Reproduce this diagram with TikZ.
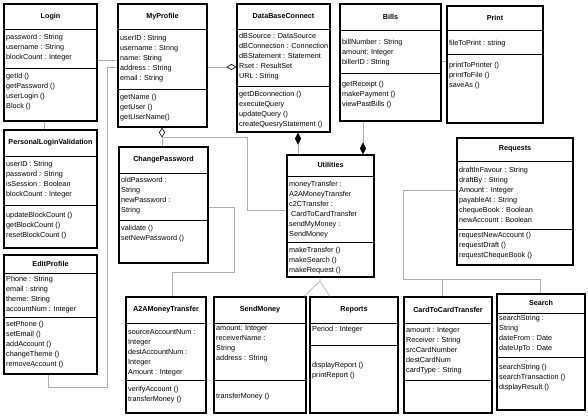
\documentclass[tikz,border=0pt]{standalone}
\usepackage{fontspec}
\setmainfont{Liberation Sans}
\usetikzlibrary{positioning,calc,fit,shadows,arrows.meta}

\tikzset{
  classframe/.style={draw, line width=1.1pt, fill=white, inner sep=0pt,
    drop shadow={shadow xshift=1.2pt, shadow yshift=-1.2pt, fill=black!60, opacity=1}},
  divider/.style={line width=0.8pt},
  classtitle/.style={font=\bfseries\fontsize{7.2}{10}\selectfont, inner sep=0pt},
  members/.style={anchor=north west, align=left, inner sep=0pt, font=\fontsize{7.25}{10}\selectfont},
  assoc/.style={draw=black!32, line width=0.6pt},
  aggrend/.style={assoc, -{Diamond[open, length=10pt, width=6pt, color=black, line width=0.6pt]}},
  aggrstart/.style={assoc, {Diamond[open, length=10pt, width=6pt, color=black, line width=0.6pt]}-},
  compend/.style={assoc, -{Diamond[length=12pt, width=6pt, color=black]}},
  compstart/.style={assoc, {Diamond[length=12pt, width=6pt, color=black]}-}
}

% class frame: name, left, top, right, bottom, first divider, second divider, title
\newcommand{\umlclass}[8]{%
  \path (#2,#3) coordinate (#1-nw) (#4,#5) coordinate (#1-se);
  \node[classframe, fit=(#1-nw)(#1-se)] (#1) {};
  \draw[divider] (#1.west |- 0,#6) -- (#1.east |- 0,#6);
  \draw[divider] (#1.west |- 0,#7) -- (#1.east |- 0,#7);
  \node[classtitle] (#1-name) at ($(#1.north)!0.5!(#1.north |- 0,#6)$) {#8};
}

\begin{document}
\begin{tikzpicture}[x=1pt, y=-1pt]
  \useasboundingbox[fill=white] (0,0) rectangle (588,415);

  % top row
  \umlclass{login}{4}{4}{97}{121}{29}{68}{Login}
  \node[members] (login-attr) at (6,34) {password : String\\username : String\\blockCount : Integer};
  \node[members] (login-ops) at (6,73) {getId ()\\getPassword ()\\userLogin ()\\Block ()};

  \umlclass{myprofile}{118}{4}{207}{127}{29}{89}{MyProfile}
  \node[members] (myprofile-attr) at (120,35) {userID : String\\username : String\\name: String\\address : String\\email : String};
  \node[members] (myprofile-ops) at (120,94) {getName ()\\getUser ()\\getUserName()};

  \umlclass{dbconnect}{237}{4}{330}{132}{29}{86}{DataBaseConnect}
  \node[members] (dbconnect-attr) at (239,33) {dBSource : DataSource\\dBConnection : Connection\\dBStatement : Statement\\Rset : ResultSet\\URL : String};
  \node[members] (dbconnect-ops) at (239,91) {getDBconnection ()\\executeQuery\\updateQuery ()\\createQuesryStatement ()};

  \umlclass{bills}{340}{4}{441}{121}{30}{73}{Bills}
  \node[members] (bills-attr) at (342,39) {billNumber : String\\amount: Integer\\billerID : String};
  \node[members] (bills-ops) at (342,81) {getReceipt ()\\makePayment ()\\viewPastBills ()};

  \umlclass{print}{447}{6}{543}{123}{30}{54}{Print}
  \node[members] (print-attr) at (449,40) {fileToPrint : string};
  \node[members] (print-ops) at (449,62) {printToPrinter ()\\printToFile ()\\saveAs ()};

  % middle row
  \umlclass{plv}{4}{130}{97}{248}{156}{205}{PersonalLoginValidation}
  \node[members] (plv-attr) at (6,161) {userID : String\\password : String\\isSession : Boolean\\blockCount : Integer};
  \node[members] (plv-ops) at (6,212) {updateBlockCount ()\\getBlockCount ()\\resetBlockCount ()};

  \umlclass{changepw}{119}{147}{208}{263}{173}{220}{ChangePassword}
  \node[members] (changepw-attr) at (121,177) {oldPassword :\\String\\newPassword :\\String};
  \node[members] (changepw-ops) at (121,225) {validate ()\\setNewPassword ()};

  \umlclass{utilities}{287}{155}{374}{277}{176}{242}{Utilities}
  \node[members] (utilities-attr) at (289,181) {moneyTransfer :\\A2AMoneyTransfer\\c2CTransfer :\\\hspace{2pt}CardToCardTransfer\\sendMyMoney :\\SendMoney};
  \node[members] (utilities-ops) at (289,247) {makeTransfer ()\\makeSearch ()\\makeRequest ()};

  \umlclass{requests}{457}{138}{573}{265}{161}{229}{Requests}
  \node[members] (requests-attr) at (459,167) {draftInFavour : String\\draftBy : String\\Amount : Integer\\payableAt : String\\chequeBook : Boolean\\newAccount : Boolean};
  \node[members] (requests-ops) at (459,232) {requestNewAccount ()\\requestDraft ()\\requestChequeBook ()};

  \umlclass{editprofile}{4}{255}{97}{374}{273}{317}{EditProfile}
  \node[members] (editprofile-attr) at (6,276) {Phone : String\\email : string\\theme: String\\accountNum : Integer};
  \node[members] (editprofile-ops) at (6,321) {setPhone ()\\setEmail ()\\addAccount ()\\changeTheme ()\\removeAccount ()};

  % bottom row
  \umlclass{a2a}{126}{297}{206}{413}{323}{380}{A2AMoneyTransfer}
  \node[members] (a2a-attr) at (128,329) {sourceAccountNum :\\Integer\\destAccountNum :\\Integer\\Amount : Integer};
  \node[members] (a2a-ops) at (128,386) {verifyAccount ()\\transferMoney ()};

  \umlclass{sendmoney}{214}{297}{306}{413}{323}{380}{SendMoney}
  \node[members] (sendmoney-attr) at (216,325) {amount: Integer\\receiverName :\\String\\address : String};
  \node[members] (sendmoney-ops) at (216,393) {transferMoney ()};

  \umlclass{reports}{310}{297}{398}{413}{323}{345}{Reports}
  \node[members] (reports-attr) at (312,326) {Period : Integer};
  \node[members] (reports-ops) at (312,362) {displayReport ()\\printReport ()};

  \umlclass{c2c}{404}{297}{492}{413}{323}{380}{CardToCardTransfer}
  \node[members] (c2c-attr) at (406,327) {amount : Integer\\Receiver : String\\srcCardNumber\\destCardNum\\cardType : String};

  \umlclass{search}{497}{294}{585}{410}{313}{357}{Search}
  \node[members] (search-attr) at (499,315) {searchString :\\String\\dateFrom : Date\\dateUpTo : Date};
  \node[members] (search-ops) at (499,364) {searchString ()\\searchTransaction ()\\displayResult ()};

  % connectors
  \draw[assoc] (login.east |- 0,60) -- (myprofile.west |- 0,60);
  \draw[assoc] (login.south -| 44,0) -- (plv.north -| 44,0);
  \draw[assoc] (editprofile.south -| 48,0) |- (107,387) |- (myprofile.west |- 0,67);
  \draw[aggrend] (myprofile.east |- 0,67) -- (dbconnect.west |- 0,67);
  \draw[aggrstart] (myprofile.south -| 162,0) -- (changepw.north -| 162,0);
  \coordinate (mp-tip) at ($(myprofile.south -| 162,0)+(0,10)$);
  \draw[assoc] (mp-tip) -| (247,210) -- (utilities.west |- 0,210);
  \draw[compstart] (dbconnect.south -| 298,0) -- (utilities.north -| 298,0);
  \draw[compend] (bills.south -| 363,0) -- (utilities.north -| 363,0);
  \draw[assoc] (bills.east |- 0,61) -- (print.west |- 0,61);
  \draw[assoc] (changepw.east |- 0,207) -| (234,272) -| (a2a.north -| 172,0);
  \coordinate (fan) at (320,281);
  \draw[assoc] (utilities.south -| 320,0) -- (fan) -- (sendmoney.north -| 304,0);
  \draw[assoc] (fan) -- (reports.north -| 330,0);
  \coordinate (split) at (442,279);
  \draw[assoc] (requests.west |- 0,190) -| (403,279) -| (search.north -| 540,0);
  \draw[assoc] (split) -- (c2c.north -| 442,0);
\end{tikzpicture}
\end{document}
